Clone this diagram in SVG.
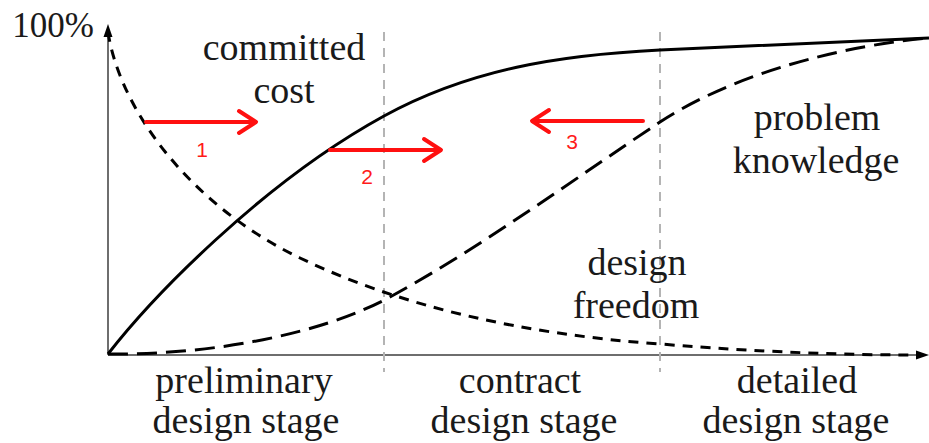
<svg xmlns="http://www.w3.org/2000/svg" width="929" height="443" viewBox="0 0 929 443">
<style>
.lbl{font-family:"Liberation Serif","DejaVu Serif",serif;font-size:38px;fill:#1a1a1a;text-anchor:middle}
.num{font-family:"Liberation Sans","DejaVu Sans",sans-serif;font-size:21px;fill:#ff1a1a;text-anchor:middle}
.axis{stroke:#6e6e6e;stroke-width:2;fill:none}
.guide{stroke:#b4b4b4;stroke-width:2;stroke-dasharray:9 7;fill:none}
.curve{stroke:#000;stroke-width:3;fill:none;stroke-linejoin:round}
.short{stroke-dasharray:10 8}
.long{stroke-dasharray:20 9}
.red{stroke:#ff1010;stroke-width:4;fill:none;stroke-linecap:round;stroke-linejoin:round}
</style>
<rect width="929" height="443" fill="#fff"/>
<g id="axes">
<line class="axis" x1="108" y1="355" x2="108" y2="34"/>
<line class="axis" x1="108" y1="355" x2="920" y2="355"/>
<polygon points="108,24 103.5,37 112.5,37" fill="#000"/>
<polygon points="929,355 916,350.5 916,359.5" fill="#000"/>
<line class="guide" x1="384" y1="32" x2="384" y2="372"/>
<line class="guide" x1="660" y1="32" x2="660" y2="372"/>
</g>
<g id="curves">
<path id="committed-cost" class="curve" d="M108,354 C150,300 260,184 384,116 C470,69 560,55 660,50 C760,45 850,42 929,38"/>
<path id="design-freedom" class="curve short" d="M108,32 C120,110 190,205 300,258 C400,306 520,334 660,344 C760,352 840,355 918,355"/>
<path id="problem-knowledge" class="curve long" d="M108,354 C210,355 320,335 390,297 C480,248 580,175 660,122 C740,70 850,45 929,38"/>
</g>
<g id="arrow1">
<path class="red" d="M146,122 L255,122 M239,111 L256,122 L239,133"/>
<text class="num" x="202" y="157">1</text>
</g>
<g id="arrow2">
<path class="red" d="M330,150 L440,150 M424,139 L441,150 L424,161"/>
<text class="num" x="367" y="184">2</text>
</g>
<g id="arrow3">
<path class="red" d="M643,121 L533,121 M549,110 L532,121 L549,132"/>
<text class="num" x="572" y="149">3</text>
</g>
<g id="labels">
<text class="lbl" x="94" y="37" style="text-anchor:end;font-size:35px">100%</text>
<text class="lbl" x="284" y="60">committed</text>
<text class="lbl" x="284" y="103">cost</text>
<text class="lbl" x="817" y="130">problem</text>
<text class="lbl" x="816" y="173">knowledge</text>
<text class="lbl" x="637" y="275">design</text>
<text class="lbl" x="636" y="318">freedom</text>
<text class="lbl" x="244" y="393">preliminary</text>
<text class="lbl" x="246" y="433">design stage</text>
<text class="lbl" x="520" y="393">contract</text>
<text class="lbl" x="524" y="433">design stage</text>
<text class="lbl" x="797" y="393">detailed</text>
<text class="lbl" x="796" y="433">design stage</text>
</g>
</svg>
